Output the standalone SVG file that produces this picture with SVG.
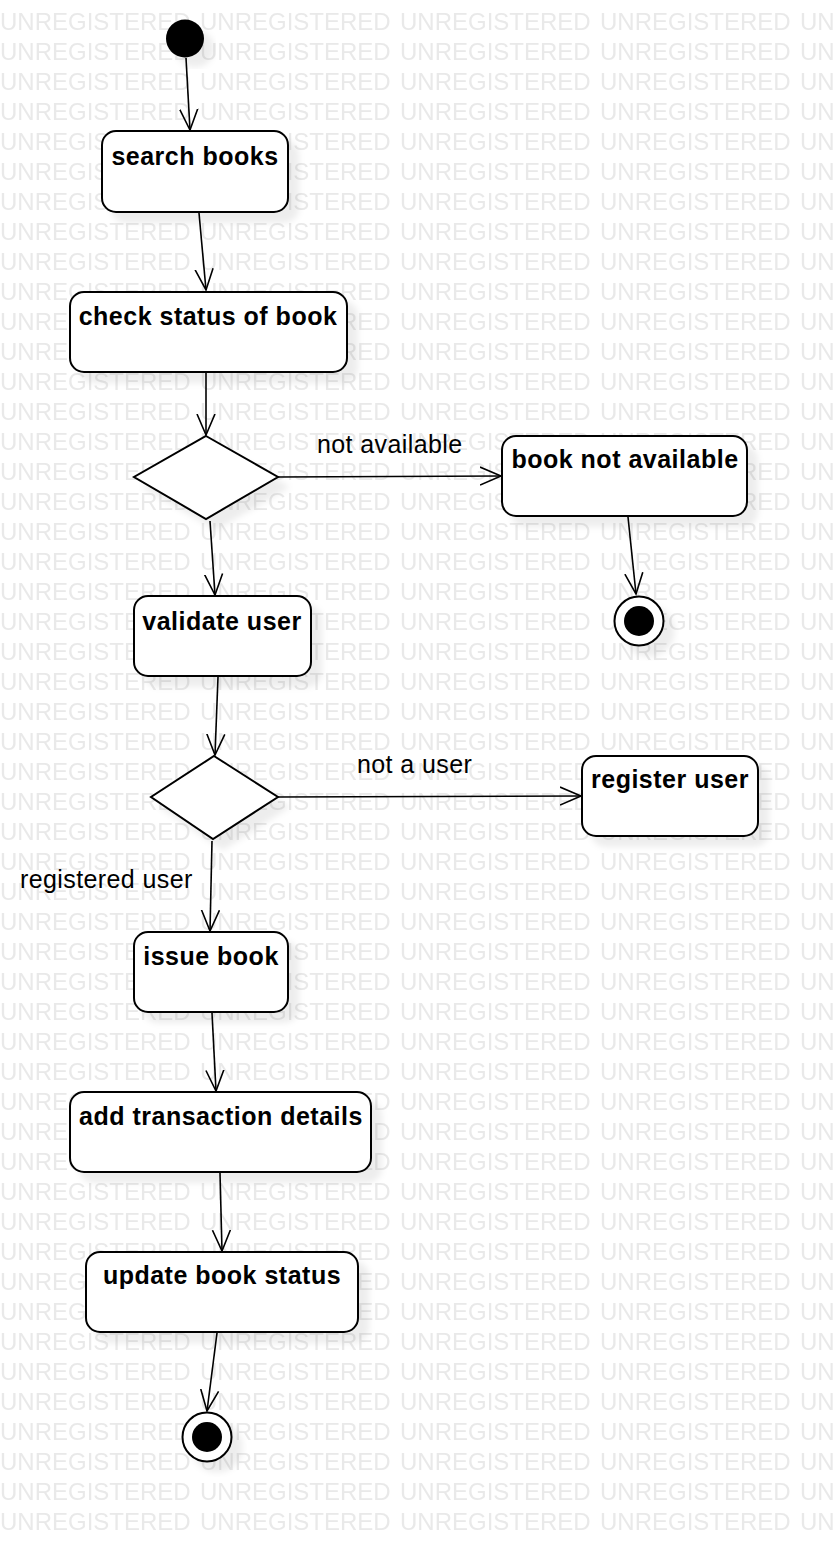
<svg xmlns="http://www.w3.org/2000/svg" width="836" height="1542" viewBox="0 0 836 1542">
<style>
.box{fill:#fff;stroke:#000;stroke-width:2}
.nt{font-family:"Liberation Sans",Arial,sans-serif;font-size:25px;font-weight:bold;letter-spacing:0.5px;text-anchor:middle;fill:#000}
.lb{font-family:"Liberation Sans",Arial,sans-serif;font-size:25px;letter-spacing:0.4px;fill:#000}
.wm{font-family:"Liberation Sans",Arial,sans-serif;font-size:24px;fill:#e9e9e9}
.ed{fill:none;stroke:#000;stroke-width:1.6}
</style>
<defs>
<pattern id="wmp" patternUnits="userSpaceOnUse" x="0" y="5" width="200" height="30">
<text class="wm" x="0" y="25">UNREGISTERED</text>
</pattern>
<filter id="sh" x="-20%" y="-20%" width="150%" height="150%">
<feGaussianBlur in="SourceAlpha" stdDeviation="3"/>
<feOffset dx="10" dy="10" result="b"/>
<feFlood flood-color="#000" flood-opacity="0.07"/>
<feComposite in2="b" operator="in"/>
<feMerge><feMergeNode/><feMergeNode in="SourceGraphic"/></feMerge>
</filter>
<marker id="ar" markerUnits="userSpaceOnUse" markerWidth="26" markerHeight="24" refX="21" refY="10" orient="auto">
<path d="M0,1 L21,10 L0,19" fill="none" stroke="#000" stroke-width="1.6"/>
</marker>
</defs>
<rect width="836" height="1542" fill="#fff"/>
<rect width="836" height="1542" fill="url(#wmp)"/>

<g id="connectors">
<line class="ed" x1="186" y1="58" x2="190" y2="130" marker-end="url(#ar)"/>
<line class="ed" x1="199" y1="213" x2="206" y2="290" marker-end="url(#ar)"/>
<line class="ed" x1="206" y1="373" x2="206" y2="435" marker-end="url(#ar)"/>
<line class="ed" x1="278" y1="477" x2="501" y2="476" marker-end="url(#ar)"/>
<line class="ed" x1="628" y1="517" x2="636" y2="594" marker-end="url(#ar)"/>
<line class="ed" x1="210" y1="521" x2="215" y2="595" marker-end="url(#ar)"/>
<line class="ed" x1="218" y1="677" x2="215" y2="755" marker-end="url(#ar)"/>
<line class="ed" x1="278" y1="797" x2="581" y2="796" marker-end="url(#ar)"/>
<line class="ed" x1="212" y1="841" x2="210" y2="931" marker-end="url(#ar)"/>
<line class="ed" x1="212" y1="1013" x2="216" y2="1091" marker-end="url(#ar)"/>
<line class="ed" x1="220" y1="1173" x2="222" y2="1251" marker-end="url(#ar)"/>
<line class="ed" x1="217" y1="1333" x2="207" y2="1411" marker-end="url(#ar)"/>
<text class="lb" x="317" y="453">not available</text>
<text class="lb" x="357" y="773">not a user</text>
<text class="lb" x="20" y="888">registered user</text>
</g>

<g id="start"><circle cx="185" cy="38.5" r="19" fill="#000" filter="url(#sh)"/></g>

<g id="search-books"><rect class="box" x="102" y="131" width="186" height="81" rx="14" filter="url(#sh)"/><text class="nt" x="195" y="165">search books</text></g>

<g id="check-status"><rect class="box" x="70" y="292" width="277" height="80" rx="14" filter="url(#sh)"/><text class="nt" x="208" y="325">check status of book</text></g>

<g id="decision-available"><polygon class="box" points="206,436 278,477 206,519 134,477" filter="url(#sh)"/></g>

<g id="book-not-available"><rect class="box" x="502" y="436" width="245" height="80" rx="14" filter="url(#sh)"/><text class="nt" x="625" y="468">book not available</text></g>

<g id="end-1"><g filter="url(#sh)"><circle cx="639" cy="621" r="24.5" fill="#fff" stroke="#000" stroke-width="2"/><circle cx="639" cy="621" r="15" fill="#000"/></g></g>

<g id="validate-user"><rect class="box" x="134" y="596" width="177" height="80" rx="14" filter="url(#sh)"/><text class="nt" x="222" y="630">validate user</text></g>

<g id="decision-user"><polygon class="box" points="214,756 278,797 213,839 151,797" filter="url(#sh)"/></g>

<g id="register-user"><rect class="box" x="582" y="756" width="176" height="80" rx="14" filter="url(#sh)"/><text class="nt" x="670" y="788">register user</text></g>

<g id="issue-book"><rect class="box" x="134" y="932" width="154" height="80" rx="14" filter="url(#sh)"/><text class="nt" x="211" y="965">issue book</text></g>

<g id="add-transaction"><rect class="box" x="70" y="1092" width="301" height="80" rx="14" filter="url(#sh)"/><text class="nt" x="221" y="1125">add transaction details</text></g>

<g id="update-status"><rect class="box" x="86" y="1252" width="272" height="80" rx="14" filter="url(#sh)"/><text class="nt" x="222" y="1284">update book status</text></g>

<g id="end-2"><g filter="url(#sh)"><circle cx="207" cy="1437" r="24.5" fill="#fff" stroke="#000" stroke-width="2"/><circle cx="207" cy="1437" r="15" fill="#000"/></g></g>
</svg>
